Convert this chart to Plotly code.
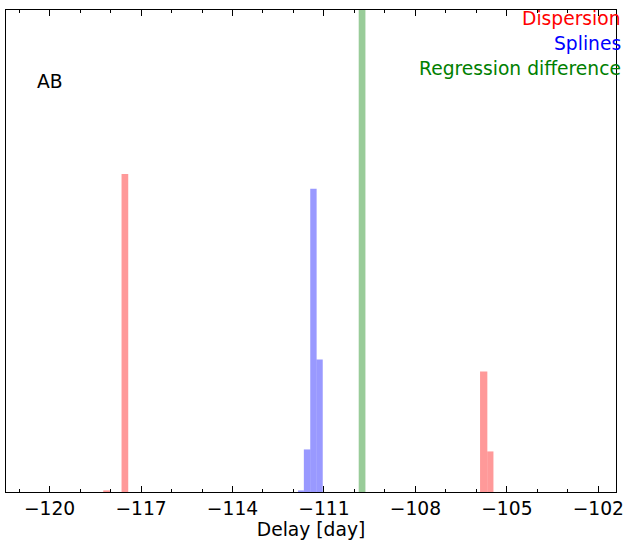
import plotly.graph_objects as go

# Histogram bins (delay in days) and bar heights for each estimator
disp_lo = [-118.24, -117.64, -105.88, -105.64]
disp_hi = [-118.02, -117.42, -105.64, -105.44]
disp_h = [0.04, 7.92, 3.00, 1.01]

spl_lo = [-111.85, -111.66, -111.45, -111.24]
spl_hi = [-111.66, -111.45, -111.24, -111.04]
spl_h = [0.04, 1.06, 7.55, 3.30]

reg_lo = [-109.86]
reg_hi = [-109.64]
reg_h = [30.0]

x_range = [-121.43, -101.42]
y_range = [0, 12.0]
tick_vals = [-120, -117, -114, -111, -108, -105, -102]

FONT = "DejaVu Sans"
FS = 18.7


def bars(lo, hi, h, color):
    centers = [(a + b) / 2 for a, b in zip(lo, hi)]
    widths = [b - a for a, b in zip(lo, hi)]
    return go.Bar(x=centers, y=h, width=widths, marker=dict(color=color, line=dict(width=0)),
                  showlegend=False, hoverinfo="skip")


fig = go.Figure()
fig.add_trace(bars(disp_lo, disp_hi, disp_h, "rgba(255,0,0,0.4)"))
fig.add_trace(bars(spl_lo, spl_hi, spl_h, "rgba(0,0,255,0.4)"))
fig.add_trace(bars(reg_lo, reg_hi, reg_h, "rgba(0,128,0,0.4)"))

fig.update_layout(
    width=630, height=542,
    margin=dict(l=6, r=10, t=10, b=50),
    barmode="overlay",
    paper_bgcolor="white", plot_bgcolor="white",
    font=dict(family=FONT, size=FS, color="black"),
    showlegend=False,
)
fig.update_xaxes(
    range=x_range, tickmode="array", tickvals=tick_vals,
    ticks="inside", ticklen=6, tickwidth=1, tickcolor="black",
    minor=dict(dtick=1, tick0=-120, ticks="inside", ticklen=3, tickwidth=1, tickcolor="black"),
    showline=True, linecolor="black", linewidth=1, mirror="ticks",
    showgrid=False, zeroline=False,
    tickfont=dict(size=FS), title=dict(text="Delay [day]", font=dict(size=FS), standoff=3),
)
fig.update_yaxes(
    range=y_range, showticklabels=False, ticks="",
    showline=True, linecolor="black", linewidth=1, mirror=True,
    showgrid=False, zeroline=False,
)

labels = [("Dispersion", "red"), ("Splines", "blue"), ("Regression difference", "green")]
for i, (txt, col) in enumerate(labels):
    fig.add_annotation(text=txt, xref="paper", yref="paper", x=(627 - 6) / 614,
                       y=(492.5 - (19 + 25 * i)) / 482.5,
                       xanchor="right", yanchor="middle", showarrow=False,
                       font=dict(size=FS, color=col, family=FONT))

fig.add_annotation(text="AB", xref="paper", yref="paper", x=(35 - 6) / 614, y=(492.5 - 82) / 482.5,
                   xanchor="left", yanchor="middle", showarrow=False,
                   font=dict(size=FS, color="black", family=FONT))

fig.write_html("out.html")
